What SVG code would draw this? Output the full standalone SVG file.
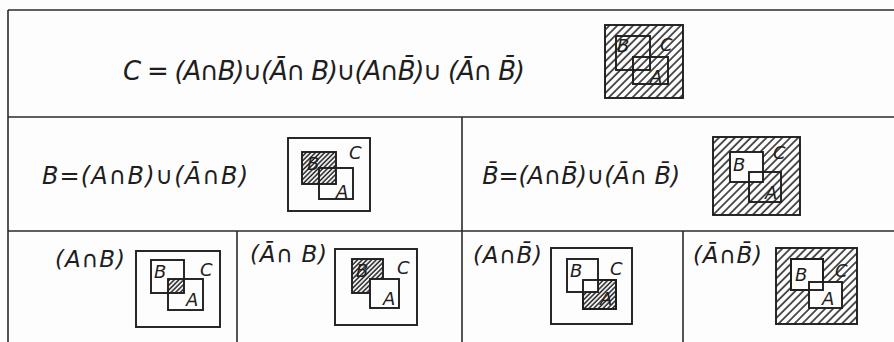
<svg xmlns="http://www.w3.org/2000/svg" width="894" height="342" viewBox="0 0 894 342">
<defs>
<pattern id="hw" width="5.6" height="5.6" patternUnits="userSpaceOnUse" patternTransform="rotate(45)">
<rect width="5.6" height="5.6" fill="#fdfdfd"/>
<line x1="1" y1="0" x2="1" y2="5.6" stroke="#1e1e1e" stroke-width="1.5"/>
</pattern>
<pattern id="hf" width="3.3" height="3.3" patternUnits="userSpaceOnUse" patternTransform="rotate(45)">
<rect width="3.3" height="3.3" fill="#fdfdfd"/>
<line x1="1" y1="0" x2="1" y2="3.3" stroke="#1e1e1e" stroke-width="1.5"/>
</pattern>
</defs>
<style>
.grid{stroke:#2a2a2a;stroke-width:1.6;fill:none}
.box{stroke:#1e1e1e;stroke-width:1.9;fill:none}
.wht{fill:#fdfdfd}
.hw{fill:url(#hw)}
.hf{fill:url(#hf)}
text{font-family:"DejaVu Sans","Liberation Sans",sans-serif;font-style:oblique;fill:#1e1e1e}
.eq{font-size:26px}
.eq2{font-size:24px}
.eq3{font-size:23px}
.lb{font-size:18px}
</style>
<rect width="894" height="342" fill="#fdfdfd"/>
<g id="connectors">
<line class="grid" x1="8" y1="10" x2="894" y2="10"/>
<line class="grid" x1="8" y1="117" x2="894" y2="117"/>
<line class="grid" x1="8" y1="231" x2="894" y2="231"/>
<line class="grid" x1="8" y1="10" x2="8" y2="342"/>
<line class="grid" x1="462" y1="117" x2="462" y2="342"/>
<line class="grid" x1="237" y1="231" x2="237" y2="342"/>
<line class="grid" x1="683" y1="231" x2="683" y2="342"/>
</g>
<g id="top">
<text class="eq" x="123" y="80" textLength="402" lengthAdjust="spacing">C = (A∩B)∪(Ā∩ B)∪(A∩B̄)∪ (Ā∩ B̄)</text>
<rect class="box hw" x="605" y="25" width="78" height="73"/>
<rect class="box" x="616" y="36" width="34" height="34"/>
<rect class="box" x="633" y="57" width="35" height="27"/>
<text class="lb" x="617" y="52">B</text>
<text class="lb" x="660" y="51">C</text>
<text class="lb" x="650" y="83">A</text>
</g>
<g id="mid-left">
<text class="eq2" x="42" y="184" textLength="206" lengthAdjust="spacing">B=(A∩B)∪(Ā∩B)</text>
<rect class="box" x="288" y="138" width="82" height="73"/>
<rect class="box hf" x="302" y="152" width="34" height="32"/>
<rect class="box" x="319" y="168" width="34" height="31"/>
<text class="lb" x="307" y="170">B</text>
<text class="lb" x="349" y="159">C</text>
<text class="lb" x="336" y="198">A</text>
</g>
<g id="mid-right">
<text class="eq2" x="482" y="184" textLength="198" lengthAdjust="spacing">B̄=(A∩B̄)∪(Ā∩ B̄)</text>
<rect class="box hw" x="713" y="137" width="87" height="78"/>
<rect class="box wht" x="730" y="152" width="33" height="30"/>
<rect class="box" x="749" y="172" width="32" height="30"/>
<text class="lb" x="733" y="171">B</text>
<text class="lb" x="773" y="159">C</text>
<text class="lb" x="765" y="199">A</text>
</g>
<g id="b1">
<text class="eq3" x="55" y="267" textLength="70" lengthAdjust="spacing">(A∩B)</text>
<rect class="box" x="136" y="251" width="84" height="76"/>
<rect class="hf" x="168" y="279" width="16" height="14"/>
<rect class="box" x="151" y="260" width="33" height="33"/>
<rect class="box" x="168" y="279" width="35" height="31"/>
<text class="lb" x="154" y="278">B</text>
<text class="lb" x="200" y="276">C</text>
<text class="lb" x="186" y="306">A</text>
</g>
<g id="b2">
<text class="eq3" x="250" y="262" textLength="77" lengthAdjust="spacing">(Ā∩ B)</text>
<rect class="box" x="335" y="249" width="82" height="76"/>
<rect class="box hf" x="352" y="259" width="31" height="34"/>
<rect class="box wht" x="370" y="279" width="29" height="29"/>
<text class="lb" x="356" y="277">B</text>
<text class="lb" x="397" y="274">C</text>
<text class="lb" x="383" y="305">A</text>
</g>
<g id="b3">
<text class="eq3" x="473" y="263" textLength="69" lengthAdjust="spacing">(A∩B̄)</text>
<rect class="box" x="551" y="248" width="81" height="76"/>
<rect class="box hf" x="583" y="280" width="33" height="29"/>
<rect class="box wht" x="567" y="259" width="31" height="33"/>
<rect class="box" x="583" y="280" width="33" height="29"/>
<text class="lb" x="570" y="277">B</text>
<text class="lb" x="610" y="275">C</text>
<text class="lb" x="600" y="305">A</text>
</g>
<g id="b4">
<text class="eq3" x="693" y="263" textLength="69" lengthAdjust="spacing">(Ā∩B̄)</text>
<rect class="box hw" x="776" y="248" width="81" height="76"/>
<rect class="box wht" x="791" y="259" width="32" height="31"/>
<rect class="box wht" x="809" y="282" width="33" height="26"/>
<rect class="box" x="791" y="259" width="32" height="31"/>
<text class="lb" x="795" y="281">B</text>
<text class="lb" x="835" y="277">C</text>
<text class="lb" x="822" y="305">A</text>
</g>
</svg>
